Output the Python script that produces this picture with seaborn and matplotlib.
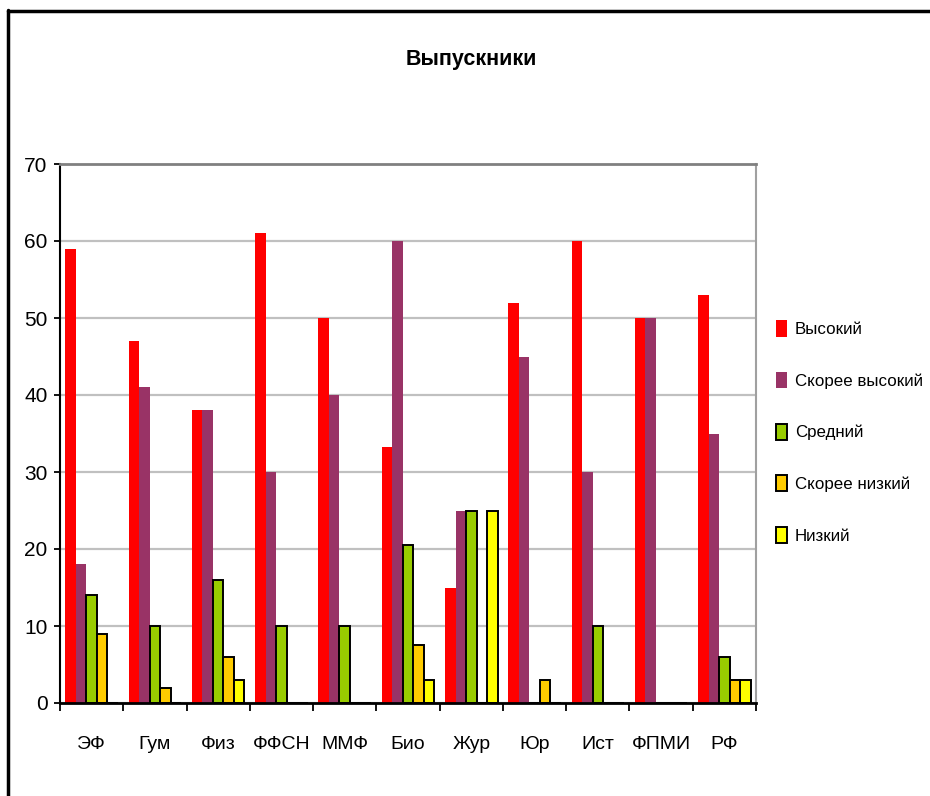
import pandas as pd
import matplotlib
matplotlib.use('Agg')
import matplotlib.pyplot as plt
from matplotlib.lines import Line2D
import seaborn as sns

# --- data ---
fakultety = ['ЭФ', 'Гум', 'Физ', 'ФФСН', 'ММФ', 'Био', 'Жур', 'Юр', 'Ист', 'ФПМИ', 'РФ']
urovni = ['Высокий', 'Скорее высокий', 'Средний', 'Скорее низкий', 'Низкий']

vysokiy = [59, 47, 38, 61, 50, 33.3, 15, 52, 60, 50, 53]
skoree_vysokiy = [18, 41, 38, 30, 40, 60, 25, 45, 30, 50, 35]
sredniy = [14, 10, 16, 10, 10, 20.5, 25, 0, 10, 0, 6]
skoree_nizkiy = [9, 2, 6, 0, 0, 7.5, 0, 3, 0, 0, 3]
nizkiy = [0, 0, 3, 0, 0, 3, 25, 0, 0, 0, 3]

cveta = ['#FF0000', '#993366', '#99CC00', '#FFCC00', '#FFFF00']

rows = []
for lvl, vals in zip(urovni, [vysokiy, skoree_vysokiy, sredniy, skoree_nizkiy, nizkiy]):
    for f, v in zip(fakultety, vals):
        rows.append({'fakultet': f, 'uroven': lvl, 'znachenie': v})
df = pd.DataFrame(rows)

sns.set_style('white')
plt.rcParams['font.family'] = ['Liberation Sans Narrow', 'Liberation Sans', 'DejaVu Sans']
plt.rcParams['text.color'] = 'black'
plt.rcParams['xtick.color'] = 'black'
plt.rcParams['ytick.color'] = 'black'

fig = plt.figure(figsize=(9.3, 7.96), dpi=100)
ax = fig.add_axes([60 / 930, 1 - 703 / 796, (756 - 60) / 930, (703 - 164) / 796])

sns.barplot(data=df, x='fakultet', y='znachenie', hue='uroven', order=fakultety,
            hue_order=urovni, palette=cveta, saturation=1, width=0.83, gap=0,
            errorbar=None, ax=ax, legend=False)

# green / orange / yellow bars have black outlines in the original
for i, cont in enumerate(ax.containers):
    for p in cont:
        if i >= 2:
            p.set_edgecolor('black')
            p.set_linewidth(1.4)
        else:
            p.set_edgecolor('none')
            p.set_linewidth(0)

ax.set_xlim(-0.5, len(fakultety) - 0.5)
ax.set_ylim(0, 70)
ax.set_yticks(range(0, 71, 10))
ax.set_axisbelow(True)
ax.yaxis.grid(True, color='#C0C0C0', linewidth=1.6)
ax.xaxis.grid(False)

ax.spines['left'].set_color('black')
ax.spines['left'].set_linewidth(1.5)
ax.spines['bottom'].set_color('black')
ax.spines['bottom'].set_linewidth(2)
ax.spines['top'].set_visible(True)
ax.spines['top'].set_color('#808080')
ax.spines['top'].set_linewidth(2)
ax.spines['right'].set_visible(True)
ax.spines['right'].set_color('#A0A0A0')
ax.spines['right'].set_linewidth(1.5)

# ticks between categories
ax.set_xticks([x + 0.5 for x in range(-1, len(fakultety))], minor=True)
ax.tick_params(axis='x', which='minor', bottom=True, length=6, width=1.3, color='black')
ax.tick_params(axis='x', which='major', bottom=False, length=0, pad=24, labelsize=14)
ax.tick_params(axis='y', left=True, length=4, width=1.3, color='black', pad=5, labelsize=15)
ax.set_xlabel('')
ax.set_ylabel('')

fig.suptitle('Выпускники', x=471 / 930, y=1 - 60 / 796, va='center',
             fontsize=15.5, fontweight='bold')

handles = [plt.Rectangle((0, 0), 1, 1, facecolor=c,
                         edgecolor='black' if i >= 2 else 'none', linewidth=1.4)
           for i, c in enumerate(cveta)]
fig.legend(handles, urovni, loc='center left', bbox_to_anchor=(776 / 930, 1 - 432 / 796),
           frameon=False, fontsize=12.2, labelspacing=2.05, handlelength=0.65,
           handleheight=1.1, handletextpad=0.45, borderpad=0, borderaxespad=0)

# outer frame (only left and top edges visible in the original)
fig.add_artist(Line2D([8 / 930, 8 / 930], [0, 1 - 10 / 796], color='black', lw=2.5,
                      transform=fig.transFigure))
fig.add_artist(Line2D([8 / 930, 1], [1 - 11 / 796, 1 - 11 / 796], color='black', lw=2.5,
                      transform=fig.transFigure))

fig.savefig('out.png', dpi=100)
